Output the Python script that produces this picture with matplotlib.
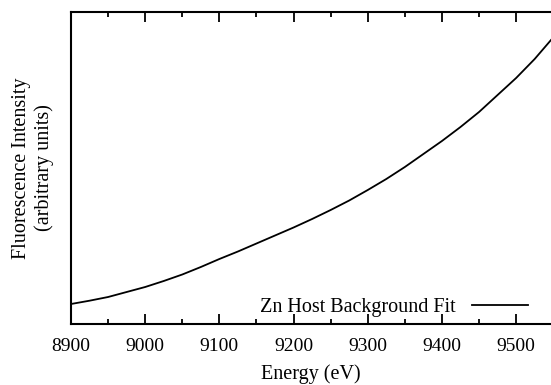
import matplotlib
matplotlib.use("Agg")
import matplotlib.pyplot as plt
from matplotlib.ticker import MultipleLocator, NullLocator

energy = [8900, 8925, 8950, 8975, 9000, 9025, 9050, 9075, 9100, 9125, 9150, 9175,
          9200, 9225, 9250, 9275, 9300, 9325, 9350, 9375,
          9400, 9425, 9450, 9475, 9500, 9525, 9547]
intensity = [20, 23.3, 27, 32, 37, 43, 49.5, 57, 65, 72.5, 80.5, 88.5,
             96.5, 105, 114, 123.5, 134, 145, 157, 170,
             183, 197, 212, 229, 246, 265, 284]
xticks = [8900, 9000, 9100, 9200, 9300, 9400, 9500]

plt.rcParams['font.family'] = ['Liberation Serif', 'DejaVu Serif']

fig = plt.figure(figsize=(5.51, 3.85), dpi=100)
ax = fig.add_axes([71/551, 1 - 324/385, 480/551, 312/385])

ax.plot(energy, intensity, color='black', lw=1.3, solid_joinstyle='round',
        label='Zn Host Background Fit')
ax.set_xlim(8900, 9547)
ax.set_ylim(0, 312)

ax.set_xticks(xticks)
ax.set_xticklabels([str(t) for t in xticks], fontsize=14)
ax.xaxis.set_minor_locator(MultipleLocator(50))
ax.yaxis.set_major_locator(NullLocator())
ax.tick_params(axis='x', which='both', direction='in', top=True, bottom=True, width=1.3, pad=10)
ax.tick_params(axis='x', which='major', length=7)
ax.tick_params(axis='x', which='minor', length=3.5)

for s in ['left', 'bottom', 'top']:
    ax.spines[s].set_linewidth(1.5)
ax.spines['right'].set_visible(False)

ax.set_xlabel('Energy (eV)', fontsize=14.5, labelpad=7)
ax.set_ylabel('Fluorescence Intensity\n(arbitrary units)', fontsize=14.5, labelpad=12, linespacing=1.25)

ax.legend(loc='lower right', bbox_to_anchor=(0.986, -0.028), frameon=False, markerfirst=False,
          fontsize=14.5, handlelength=2.8, handletextpad=0.8, borderpad=0.3)

fig.savefig('out.png', dpi=100)
